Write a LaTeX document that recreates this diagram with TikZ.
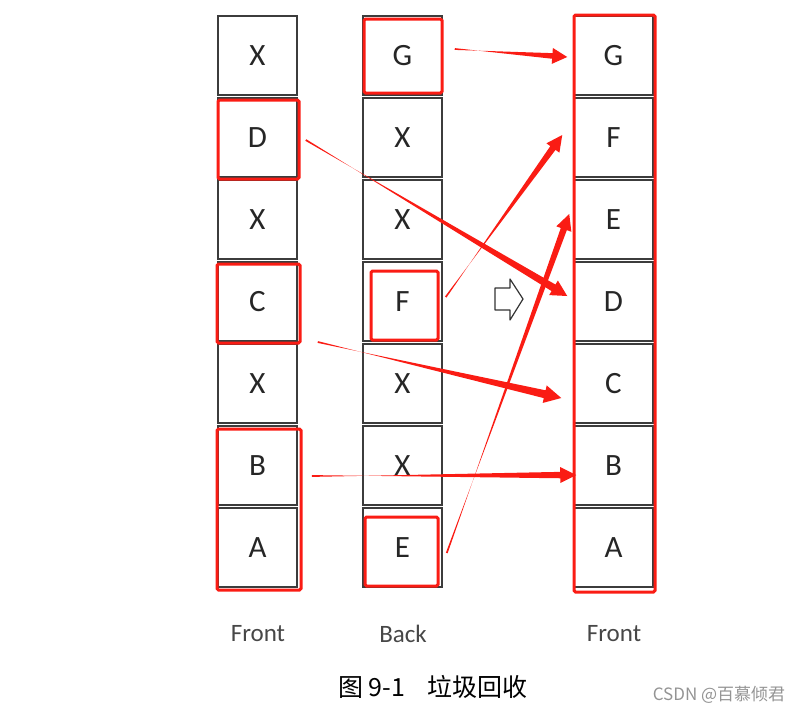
\documentclass[tikz,border=0pt]{standalone}
\usepackage{fontspec}
\setmainfont{Carlito}
\newfontfamily\cjk{Noto Sans CJK SC}
\usetikzlibrary{calc}
\definecolor{ared}{RGB}{250,28,20}
\definecolor{boxgray}{RGB}{60,60,60}
% #1 from, #2 to, #3 neck half-width, #4 head half-width, #5 head length
\newcommand\taperarrow[5]{%
  \coordinate (tmpN) at ($(#2)!#5!(#1)$);
  \fill[ared] ($(#1)!0.9pt!90:(#2)$) -- ($(tmpN)!#3!-90:(#2)$) -- ($(tmpN)!#4!-90:(#2)$)
     -- (#2) -- ($(tmpN)!#4!90:(#2)$) -- ($(tmpN)!#3!90:(#2)$) -- ($(#1)!0.9pt!-90:(#2)$) -- cycle;
}
\begin{document}
\begin{tikzpicture}[x=1pt,y=-1pt,
  cell/.style={draw=boxgray,line width=1.5pt,minimum width=79pt,minimum height=79pt,inner sep=0pt,
    font=\fontsize{31}{31}\selectfont,text=black!85},
  hl/.style={draw=ared,line width=3pt,rounded corners=1.5pt},
  lab/.style={font=\fontsize{25}{25}\selectfont,text=black!72},
]
\useasboundingbox (0,0) rectangle (805,715);

\foreach \t [count=\i from 0] in {X,D,X,C,X,B,A}
  \node[cell] (l\i) at (257.5,55.5+82*\i) {\t};
\foreach \t [count=\i from 0] in {G,X,X,F,X,X,E}
  \node[cell] (m\i) at (402.5,55.5+82*\i) {\t};
\foreach \t [count=\i from 0] in {G,F,E,D,C,B,A}
  \node[cell] (r\i) at (613.5,55.5+82*\i) {\t};

% red highlight frames
\draw[hl] (218,100) rectangle (299,179);
\draw[hl] (217,264) rectangle (300,343);
\draw[hl] (217,429) rectangle (301,590);
\draw[hl] (364,19) rectangle (442,93);
\draw[hl] (371,271) rectangle (438,340);
\draw[hl] (365,517) rectangle (438,586);
\draw[hl] (574,15) rectangle (655,592);

% arrow end points
\coordinate (gA) at ($(m0.east)+(12,-6.5)$);
\coordinate (gB) at ($(r0.west)+(-6,1.5)$);
\coordinate (dA) at ($(l1.east)+(8,2.5)$);
\coordinate (dB) at ($(r3.west)+(-6,-5.5)$);
\coordinate (fA) at ($(m3.east)+(3,-4.5)$);
\coordinate (fB) at ($(r1.west)+(-11,-2.5)$);
\coordinate (cA) at ($(l3.east)+(20,40.5)$);
\coordinate (cB) at ($(r4.west)+(-12,14.5)$);
\coordinate (eA) at ($(m6.east)+(4,5.5)$);
\coordinate (eB) at ($(r2.west)+(-4,-5.5)$);
\coordinate (bA) at ($(l5.east)+(14,10.5)$);
\coordinate (bB) at ($(r5.west)+(3,9.5)$);

\taperarrow{gA}{gB}{2.8pt}{8pt}{15pt}
\taperarrow{dA}{dB}{3.8pt}{8.5pt}{16pt}
\taperarrow{fA}{fB}{3.2pt}{8pt}{16pt}
\taperarrow{cA}{cB}{4pt}{9pt}{17pt}
\taperarrow{eA}{eB}{3.2pt}{8pt}{16pt}
\taperarrow{bA}{bB}{3.2pt}{8pt}{16pt}

% hollow block arrow
\draw[line width=1.2pt,draw=black!80,line join=round]
  (495,288) -- (510,288) -- (510,279) -- (523,299) -- (510,320) -- (510,310) -- (495,310) -- cycle;

\node[lab] (f1) at (258,634) {Front};
\node[lab] (bk) at (403,634) {Back};
\node[lab] (f2) at (614,634) {Front};

\node[font=\cjk\fontsize{25}{25}\selectfont] (cap) at (433,687) {图 9-1\hspace{0.9em}垃圾回收};
\node[font=\cjk\fontsize{17}{17}\selectfont,text=black!42] (wm) at (719,695) {CSDN @百慕倾君};
\end{tikzpicture}
\end{document}
